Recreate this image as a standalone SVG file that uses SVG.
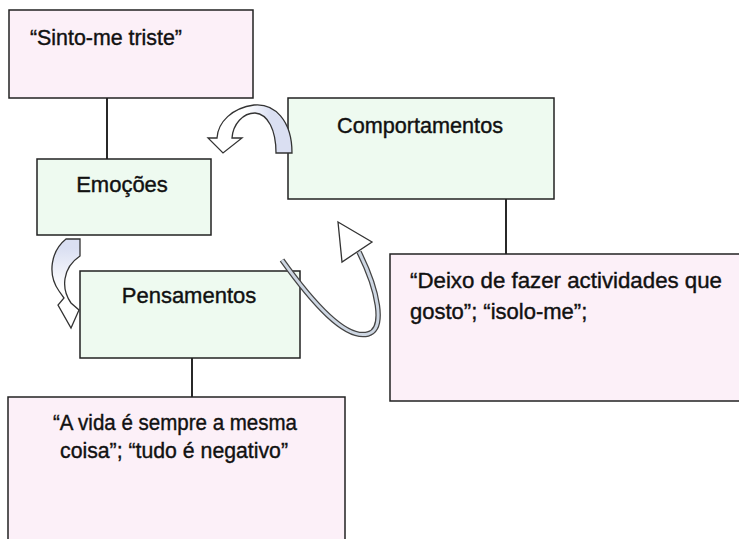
<svg xmlns="http://www.w3.org/2000/svg" width="739" height="539" viewBox="0 0 739 539">
<style>
.pink{fill:#fcf0f8;stroke:#222;stroke-width:1.5}
.green{fill:#eefaf0;stroke:#222;stroke-width:1.5}
.t{font-family:"Liberation Sans",Arial,sans-serif;font-size:22px;fill:#111;stroke:#111;stroke-width:0.4}
.c{text-anchor:middle}
.ln{stroke:#111;stroke-width:1.8;fill:none}
.ar{stroke:#333;stroke-width:1.3}
</style>
<defs>
<linearGradient id="g1" x1="0" y1="0" x2="1" y2="0">
<stop offset="0.45" stop-color="#ffffff"/>
<stop offset="0.75" stop-color="#dadff2"/>
</linearGradient>
<linearGradient id="g2" x1="0" y1="0" x2="0" y2="1">
<stop offset="0.1" stop-color="#dadff2"/>
<stop offset="0.55" stop-color="#ffffff"/>
</linearGradient>
</defs>
<g id="connectors">
<line class="ln" x1="107" y1="98" x2="107" y2="159"/>
<line class="ln" x1="192" y1="358" x2="192" y2="397"/>
<line class="ln" x1="506" y1="199" x2="506" y2="254"/>
</g>
<g id="sinto">
<rect class="pink" x="9" y="10" width="244" height="88"/>
<text class="t" x="30" y="45" textLength="152" lengthAdjust="spacingAndGlyphs">“Sinto-me triste”</text>
</g>
<g id="emocoes">
<rect class="green" x="37" y="159" width="174" height="76"/>
<text class="t c" x="122" y="192">Emoções</text>
</g>
<g id="pensamentos">
<rect class="green" x="80" y="271" width="220" height="87"/>
<text class="t c" x="189" y="303">Pensamentos</text>
</g>
<g id="comportamentos">
<rect class="green" x="288" y="98" width="266" height="101"/>
<text class="t c" x="420" y="133" textLength="166" lengthAdjust="spacingAndGlyphs">Comportamentos</text>
</g>
<g id="vida">
<rect class="pink" x="8" y="397" width="337" height="150"/>
<text class="t c" x="175" y="430" textLength="244" lengthAdjust="spacingAndGlyphs">“A vida é sempre a mesma</text>
<text class="t c" x="174" y="458" textLength="228" lengthAdjust="spacingAndGlyphs">coisa”; “tudo é negativo”</text>
</g>
<g id="deixo">
<rect class="pink" x="390" y="254" width="360" height="147"/>
<text class="t" x="410" y="288" textLength="312" lengthAdjust="spacingAndGlyphs">“Deixo de fazer actividades que</text>
<text class="t" x="410" y="319">gosto”; “isolo-me”;</text>
</g>
<g id="arrows">
<path class="ar" fill="url(#g1)" d="M292 153 C292 120 274 103 254 105 C232 108 218 122 217 138 L208 138 L223 153 L242 138 L232 138 C233 124 243 113 255 113 C268 114 276 130 276 153 Z"/>
<path class="ar" fill="url(#g2)" d="M80 239 L66 239 C51 251 47 274 59 291 L64 298 L58 305 L71 328 L79 310 L71 303 C61 289 62 268 80 256 Z"/>
<path d="M282 260 C312 302 345 340 368 334 C386 329 378 290 359 252" fill="none" stroke="#444" stroke-width="5.5" stroke-linecap="butt"/>
<path d="M282 260 C312 302 345 340 368 334 C386 329 378 290 359 252" fill="none" stroke="#cdd6e2" stroke-width="3"/>
<polygon class="ar" fill="#ffffff" points="338,222 372,242 342,262"/>
</g>
</svg>
